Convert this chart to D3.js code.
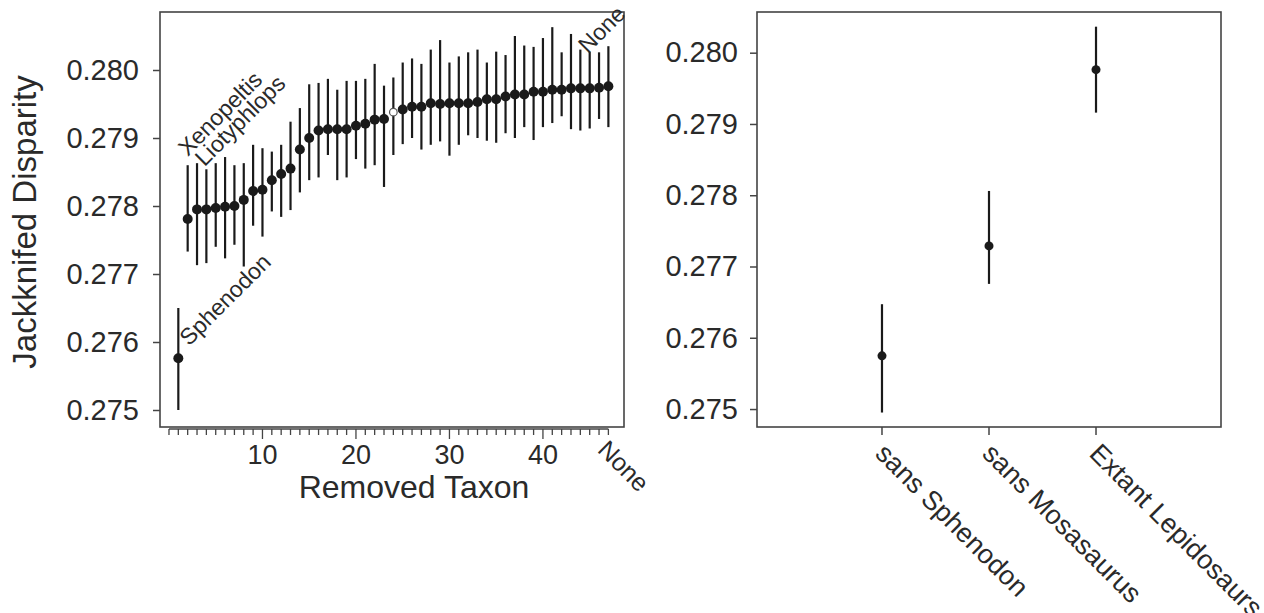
<!DOCTYPE html>
<html>
<head>
<meta charset="utf-8">
<script src="https://cdn.jsdelivr.net/npm/d3@7"></script>
<style>
  body { margin: 0; background: #fff; }
  svg { display: block; }
  text { font-family: "Liberation Sans", Arial, sans-serif; fill: #2a2a2a; }
</style>
</head>
<body>
<svg width="1264" height="613"></svg>
<script>
// left panel: jackknifed disparity, one taxon removed at a time (47 = None)
const removed = [1,2,3,4,5,6,7,8,9,10,11,12,13,14,15,16,17,18,19,20,21,22,23,24,
  25,26,27,28,29,30,31,32,33,34,35,36,37,38,39,40,41,42,43,44,45,46,47]
const jackMean = [0.27576,0.27781,0.27795,0.27795,0.27797,0.27799,0.27800,0.27809,
  0.27822,0.27824,0.27838,0.27847,0.27855,0.27883,0.27900,0.27911,0.27913,0.27913,
  0.27913,0.27918,0.27921,0.27927,0.27928,0.27938,0.27942,0.27946,0.27946,0.27951,
  0.27950,0.27951,0.27951,0.27951,0.27953,0.27957,0.27957,0.27961,0.27964,0.27964,
  0.27968,0.27968,0.27971,0.27971,0.27973,0.27973,0.27973,0.27974,0.27976]
const jackUpper = [0.27650,0.27860,0.27863,0.27854,0.27863,0.27872,0.27860,0.27863,
  0.27890,0.27885,0.27880,0.27890,0.27924,0.27944,0.27979,0.27981,0.27987,0.27971,
  0.27984,0.27984,0.27987,0.28009,0.27977,0.27989,0.28011,0.28017,0.28009,0.28030,
  0.28044,0.28011,0.28020,0.28026,0.28030,0.28011,0.28027,0.28022,0.28050,0.28036,
  0.28034,0.28047,0.28063,0.28026,0.28053,0.28030,0.28027,0.28026,0.28035]
const jackLower = [0.27500,0.27733,0.27713,0.27716,0.27740,0.27723,0.27743,0.27711,
  0.27771,0.27755,0.27792,0.27784,0.27794,0.27820,0.27838,0.27842,0.27875,0.27838,
  0.27842,0.27869,0.27855,0.27860,0.27828,0.27875,0.27891,0.27900,0.27883,0.27890,
  0.27895,0.27874,0.27890,0.27904,0.27900,0.27896,0.27893,0.27907,0.27900,0.27916,
  0.27897,0.27916,0.27922,0.27932,0.27913,0.27911,0.27914,0.27928,0.27916]
const openPoint = 24
const yTicks = [0.275,0.276,0.277,0.278,0.279,0.280]
const xMajor = [10,20,30,40]

// labelled taxa: [text, index, disparity]
const notes = [
  ['Sphenodon', 2.15, 0.27593],
  ['Xenopeltis', 2.0, 0.27872],
  ['Liotyphlops', 3.8, 0.27857],
  ['None', 44.8, 0.28023]
]

// right panel
const groups = ['sans Sphenodon','sans Mosasaurus','Extant Lepidosaurs']
const groupMean = [0.275746, 0.277289, 0.279762]
const groupUpper = [0.276471, 0.278060, 0.280365]
const groupLower = [0.274951, 0.276756, 0.279159]

const svg = d3.select('svg')
const ink = '#1a1a1a'
const frameCol = '#444'

// ---------- left ----------
const L = {left:160, right:624, top:12, bottom:427}
const x = d3.scaleLinear().domain([-0.96, 48.67]).range([L.left, L.right])
const y = d3.scaleLinear().domain([0.27475, 0.280853]).range([L.bottom, L.top])

const left = svg.append('g')

left.selectAll('line.bar').data(removed)
  .enter().append('line')
    .attr('class', 'bar')
    .attr('x1', d => x(d)).attr('x2', d => x(d))
    .attr('y1', (d, i) => y(jackLower[i]))
    .attr('y2', (d, i) => y(jackUpper[i]))
    .attr('stroke', ink).attr('stroke-width', 2.2)

left.selectAll('circle').data(removed)
  .enter().append('circle')
    .attr('cx', d => x(d))
    .attr('cy', (d, i) => y(jackMean[i]))
    .attr('r', d => d === openPoint ? 3.8 : 5)
    .attr('fill', d => d === openPoint ? '#fff' : ink)
    .attr('stroke', d => d === openPoint ? '#555' : 'none')
    .attr('stroke-width', 1.2)

left.append('rect')
  .attr('x', L.left).attr('y', L.top)
  .attr('width', L.right - L.left).attr('height', L.bottom - L.top)
  .attr('fill', 'none').attr('stroke', frameCol).attr('stroke-width', 1.6)

// y axis
const yAxisL = left.append('g')
  .attr('transform', `translate(${L.left},0)`)
  .call(d3.axisLeft(y).tickValues(yTicks).tickFormat(d3.format('.3f')).tickSize(7).tickPadding(14))
yAxisL.select('.domain').remove()
yAxisL.selectAll('line').attr('stroke', frameCol).attr('stroke-width', 1.5)
yAxisL.selectAll('text').attr('font-size', 29).attr('fill', '#2a2a2a')

// x axis: minor tick every taxon, labels at 10s
const xAxisG = left.append('g').attr('transform', `translate(0,${L.bottom + 2})`)
xAxisG.append('line')
  .attr('x1', x(0)).attr('x2', x(47))
  .attr('stroke', frameCol).attr('stroke-width', 1.4)
xAxisG.selectAll('line.minor').data(d3.range(0, 48))
  .enter().append('line')
    .attr('class', 'minor')
    .attr('x1', d => x(d)).attr('x2', d => x(d))
    .attr('y1', 0).attr('y2', d => xMajor.includes(d) ? 10 : 6)
    .attr('stroke', frameCol).attr('stroke-width', 1.3)
xAxisG.selectAll('text.tick').data(xMajor)
  .enter().append('text')
    .attr('class', 'tick')
    .attr('x', d => x(d)).attr('y', 35)
    .attr('text-anchor', 'middle')
    .attr('font-size', 27)
    .text(d => d)
xAxisG.append('text')
  .attr('transform', `translate(${x(47) - 12},${22}) rotate(45)`)
  .attr('font-size', 25)
  .text('None')

left.append('text')
  .attr('x', 414).attr('y', 498)
  .attr('text-anchor', 'middle')
  .attr('font-size', 32)
  .text('Removed Taxon')

left.append('text')
  .attr('transform', 'translate(36,222) rotate(-90)')
  .attr('text-anchor', 'middle')
  .attr('font-size', 33)
  .text('Jackknifed Disparity')

left.selectAll('text.note').data(notes)
  .enter().append('text')
    .attr('class', 'note')
    .attr('transform', d => `translate(${x(d[1])},${y(d[2])}) rotate(-45)`)
    .attr('font-size', 23)
    .text(d => d[0])

// ---------- right ----------
const R = {left:757, right:1221, top:12, bottom:427}
const xr = d3.scalePoint().domain(groups).range([R.left, R.right]).padding(1.168)
const yr = d3.scaleLinear().domain([0.274748, 0.280571]).range([R.bottom, R.top])

const right = svg.append('g')

right.selectAll('line.bar').data(groups)
  .enter().append('line')
    .attr('class', 'bar')
    .attr('x1', d => xr(d)).attr('x2', d => xr(d))
    .attr('y1', (d, i) => yr(groupLower[i]))
    .attr('y2', (d, i) => yr(groupUpper[i]))
    .attr('stroke', ink).attr('stroke-width', 2.2)

right.selectAll('circle').data(groups)
  .enter().append('circle')
    .attr('cx', d => xr(d))
    .attr('cy', (d, i) => yr(groupMean[i]))
    .attr('r', 4.5)
    .attr('fill', ink)

right.append('rect')
  .attr('x', R.left).attr('y', R.top)
  .attr('width', R.right - R.left).attr('height', R.bottom - R.top)
  .attr('fill', 'none').attr('stroke', frameCol).attr('stroke-width', 1.6)

const yAxisR = right.append('g')
  .attr('transform', `translate(${R.left},0)`)
  .call(d3.axisLeft(yr).tickValues(yTicks).tickFormat(d3.format('.3f')).tickSize(7).tickPadding(12))
yAxisR.select('.domain').remove()
yAxisR.selectAll('line').attr('stroke', frameCol).attr('stroke-width', 1.5)
yAxisR.selectAll('text').attr('font-size', 29).attr('fill', '#2a2a2a')

const xAxisR = right.append('g').attr('transform', `translate(0,${R.bottom})`)
xAxisR.selectAll('line').data(groups)
  .enter().append('line')
    .attr('x1', d => xr(d)).attr('x2', d => xr(d))
    .attr('y1', 0).attr('y2', 8)
    .attr('stroke', frameCol).attr('stroke-width', 1.5)
xAxisR.selectAll('text').data(groups)
  .enter().append('text')
    .attr('transform', d => `translate(${xr(d) - 8},${28}) rotate(45)`)
    .attr('font-size', 27)
    .text(d => d)
</script>
</body>
</html>
